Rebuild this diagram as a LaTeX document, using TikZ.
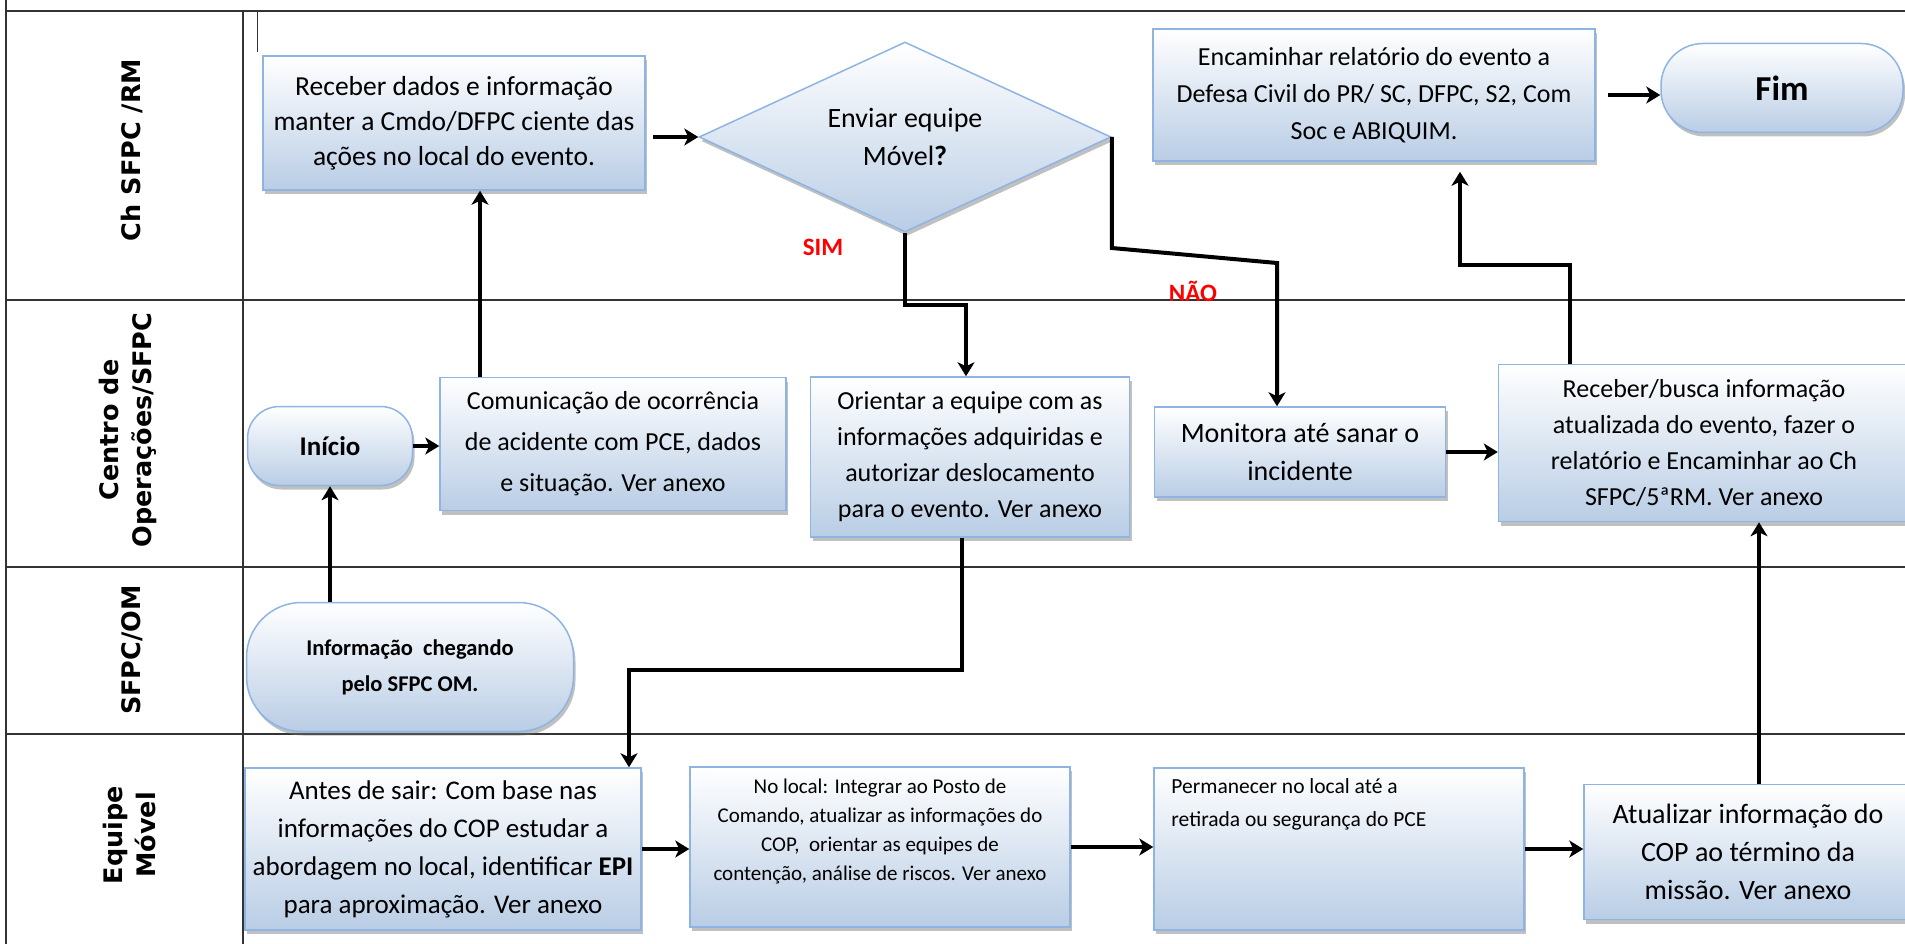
\documentclass[tikz,border=0pt]{standalone}
\usepackage{fontspec}
\setmainfont{Carlito}
\newfontfamily\lanefont{DejaVu Sans}
\usetikzlibrary{shapes.geometric,shadows,arrows.meta,calc}
\definecolor{boxblue}{HTML}{B9CDE5}
\definecolor{boxline}{HTML}{8EB4E3}
\definecolor{gridline}{HTML}{333333}
\definecolor{labelred}{HTML}{FF0000}
\newcommand\setfs[2]{\fontsize{#1pt}{#2pt}\selectfont}
\begin{document}
\begin{tikzpicture}[x=1pt,y=-1pt,
  gridl/.style={draw=gridline, line width=2pt},
  boxshadow/.style={general shadow={fill=black!55, opacity=0.45, shadow xshift=2pt, shadow yshift=-4pt}},
  procbox/.style={rectangle, draw=boxline, line width=1.5pt, top color=white, bottom color=boxblue, boxshadow, inner sep=0pt, align=center},
  termbox/.style={procbox, rounded corners=#1},
  decision/.style={diamond, draw=boxline, line width=1.5pt, top color=white, bottom color=boxblue, boxshadow, aspect=2.17, minimum width=412pt, minimum height=190pt, inner sep=0pt, align=center},
  lanelabel/.style={rotate=90, font=\lanefont\bfseries\setfs{25.5}{33}, align=center},
  arr/.style={draw=black, line width=4pt, -{Stealth[length=14pt,width=17pt,inset=4pt]}},
  answer/.style={text=labelred, font=\bfseries\setfs{25}{28}}
]
\useasboundingbox (0,0) rectangle (1905,944);
% grid
\draw[gridl] (6,0) -- (6,944);
\draw[gridl] (243,11) -- (243,944);
\draw[gridl] (6,11) -- (1905,11);
\draw[gridl] (6,300) -- (1905,300);
\draw[gridl] (6,567) -- (1905,567);
\draw[gridl] (6,734) -- (1905,734);
\draw[draw=gridline, line width=1pt] (257,12) -- (257,52);
% lane labels
\node[lanelabel] (lane1) at (132,150) {Ch SFPC /RM};
\node[lanelabel] (lane2) at (128,430) {Centro de\\Operações/SFPC};
\node[lanelabel] (lane3) at (132,650) {SFPC/OM};
\node[lanelabel] (lane4) at (129,835) {Equipe\\Móvel};
% nodes
\node[procbox, minimum width=382pt, minimum height=134pt, font=\setfs{27.5}{35}] (rec1) at (454,123) {Receber dados e informação\\manter a Cmdo/DFPC ciente das\\ações no local do evento.};
\node[decision, font=\setfs{28}{38}] (dia) at (905,137) {Enviar equipe\\Móvel\textbf{?}};
\node[procbox, minimum width=442pt, minimum height=132pt, font=\setfs{26}{37}] (enc) at (1374,95) {Encaminhar relatório do evento a\\Defesa Civil do PR/ SC, DFPC, S2, Com\\Soc e ABIQUIM.};
\node[termbox=42pt, minimum width=242pt, minimum height=89pt, font=\bfseries\setfs{35}{40}] (fim) at (1782,88) {Fim};
\node[procbox, minimum width=346pt, minimum height=133pt, font=\setfs{26}{41}] (com) at (613,444) {Comunicação de ocorrência\\de acidente com PCE, dados\\e situação. Ver anexo};
\node[termbox=32pt, minimum width=165pt, minimum height=79pt, font=\bfseries\setfs{27}{32}] (ini) at (330,446) {Início};
\node[termbox=55pt, minimum width=327pt, minimum height=129pt, font=\bfseries\setfs{22.5}{36}] (sfpcom) at (410,667) {Informação\ \ chegando\\pelo SFPC OM.};
\node[procbox, minimum width=319pt, minimum height=160pt, font=\setfs{26}{36}] (ori) at (970,457) {Orientar a equipe com as\\informações adquiridas e\\autorizar deslocamento\\para o evento. Ver anexo};
\node[procbox, minimum width=291pt, minimum height=90pt, font=\setfs{28}{38}] (mon) at (1300,452) {Monitora até sanar o\\incidente};
\node[procbox, minimum width=411pt, minimum height=157pt, font=\setfs{26}{36}] (rec2) at (1704,443) {Receber/busca informação\\atualizada do evento, fazer o\\relatório e Encaminhar ao Ch\\SFPC/5ªRM. Ver anexo};
\node[procbox, minimum width=396pt, minimum height=162pt, font=\setfs{27}{38}] (antes) at (443,849) {Antes de sair: Com base nas\\informações do COP estudar a\\abordagem no local, identificar \textbf{EPI}\\para aproximação. Ver anexo};
\node[procbox, minimum width=380pt, minimum height=160pt] (noloc) at (880,847) {};
\node[anchor=north, align=center, font=\setfs{21}{29}, inner sep=0pt] (noloctxt) at ([yshift=-12pt]noloc.north) {No local: Integrar ao Posto de\\Comando, atualizar as informações do\\COP,\ \ orientar as equipes de\\contenção, análise de riscos. Ver anexo};
\node[procbox, minimum width=370pt, minimum height=162pt] (perm) at (1339,849) {};
\node[anchor=north west, align=left, font=\setfs{21.5}{33}, inner sep=0pt] (permtxt) at ([xshift=18pt,yshift=-11pt]perm.north west) {Permanecer no local até a\\retirada ou segurança do PCE};
\node[procbox, minimum width=328pt, minimum height=135pt, font=\setfs{28}{38}] (atu) at (1748,852) {Atualizar informação do\\COP ao término da\\missão. Ver anexo};
% answers
\node[answer] (sim) at (823,247) {SIM};
\node[answer] (nao) at (1193,291) {NÃO};
% helper coordinates
\coordinate (simx) at ([xshift=-4pt]ori.north);
\coordinate (simturn) at (0,305);
\coordinate (naox) at ([xshift=-23pt]mon.north);
\coordinate (naoturn1) at (0,248);
\coordinate (naoturn2) at (0,263);
\coordinate (r2x) at ([xshift=-134pt]rec2.north);
\coordinate (encx) at ([xshift=86pt]enc.south);
\coordinate (upturn) at (0,265);
\coordinate (orx) at ([xshift=-8pt]ori.south);
\coordinate (antx) at ([xshift=186pt]antes.north);
\coordinate (downturn) at (0,670);
\coordinate (comx) at ([xshift=-133pt]com.north);
\coordinate (atx) at ([xshift=11pt]atu.north);
% connectors
\draw[arr, shorten <=7pt] (rec1.east |- dia.west) -- (dia.west);
\draw[arr] (comx) -- (comx |- rec1.south);
\draw[arr] (ini.east) -- (ini.east -| com.west);
\draw[arr] (ini.south |- sfpcom.north) -- (ini.south);
\draw[arr] (dia.south) -- (dia.south |- simturn) -- (simx |- simturn) -- (simx);
\draw[arr] (dia.east) -- (dia.east |- naoturn1) -- (naox |- naoturn2) -- (naox);
\draw[arr] (mon.east) -- (mon.east -| rec2.west);
\draw[arr, shorten >=10pt] (r2x) -- (r2x |- upturn) -- (encx |- upturn) -- (encx);
\draw[arr, shorten <=12pt] (enc.east) -- (enc.east -| fim.west);
\draw[arr] (orx) -- (orx |- downturn) -- (antx |- downturn) -- (antx);
\draw[arr] (antes.east) -- (antes.east -| noloc.west);
\draw[arr] (noloc.east) -- (noloc.east -| perm.west);
\draw[arr] (perm.east) -- (perm.east -| atu.west);
\draw[arr] (atx) -- (atx |- rec2.south);
\end{tikzpicture}
\end{document}
